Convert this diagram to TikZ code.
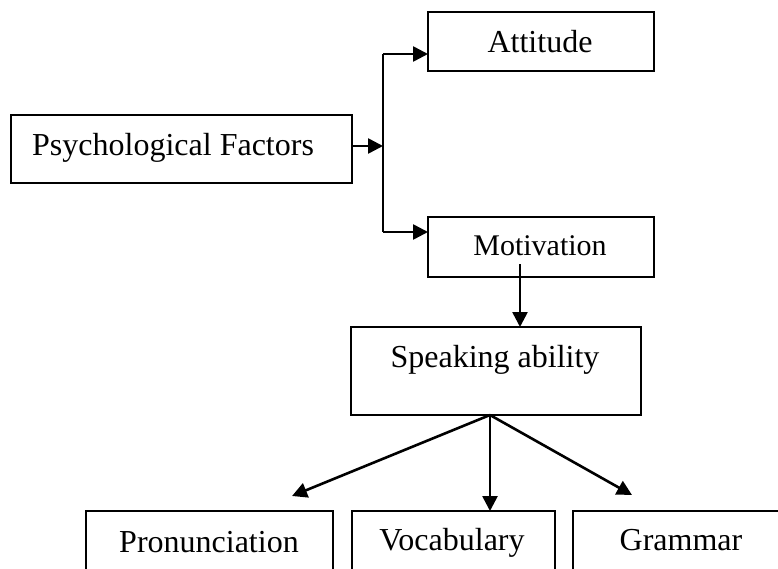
\documentclass[tikz,border=0pt]{standalone}
\usepackage{fontspec}
\setmainfont{Liberation Serif}
\usetikzlibrary{arrows.meta}
\begin{document}
\begin{tikzpicture}[x=1pt,y=-1pt,
  box/.style={draw=black,line width=2pt,inner sep=0pt,outer sep=0pt},
  conn/.style={line width=2.6pt,-{Triangle[length=15pt,width=15pt]}},
  lbl/.style={inner sep=0pt,anchor=base,font=\fontsize{32}{32}\selectfont}]
\useasboundingbox (0,0) rectangle (778,568);
\clip (0,0) rectangle (778,568);
% boxes
\node[box,minimum width=341pt,minimum height=68pt] (psy) at (181.5,149) {};
\node[box,minimum width=226pt,minimum height=59pt] (att) at (541,41.5) {};
\node[box,minimum width=226pt,minimum height=60pt] (mot) at (541,247) {};
\node[box,minimum width=290pt,minimum height=88pt] (spk) at (495.5,371) {};
\node[box,minimum width=247pt,minimum height=80pt] (pro) at (209.5,551) {};
\node[box,minimum width=203pt,minimum height=80pt] (voc) at (453.5,551) {};
\node[box,minimum width=220pt,minimum height=80pt] (gra) at (683,551) {};
% texts
\node[lbl,anchor=base west] (tpsy) at (32,155) {Psychological Factors};
\node[lbl] (tatt) at (540,52) {Attitude};
\node[lbl,font=\fontsize{30}{30}\selectfont] (tmot) at (540,255) {Motivation};
\node[lbl] (tspk) at (495,367) {Speaking ability};
\node[lbl] (tpro) at (209,552) {Pronunciation};
\node[lbl] (tvoc) at (452,550) {Vocabulary};
\node[lbl] (tgra) at (681,550) {Grammar};
% connectors
\coordinate (j) at (383,146);
\coordinate (jt) at (383,54);
\coordinate (jb) at (383,232);
\draw[conn] (psy.east |- j) -- (j);
\draw[line width=2.6pt] (jt) -- (jb);
\draw[conn] (jt) -- (att.west |- jt);
\draw[conn] (jb) -- (mot.west |- jb);
\coordinate (ms) at (520,264);
\draw[conn] (ms) -- (ms |- spk.north);
\coordinate (sb) at (490,415);
\coordinate (pt) at (292,496);
\coordinate (gt) at (632,495);
\draw[conn] (sb) -- (pt);
\draw[conn] (sb) -- (sb |- voc.north);
\draw[conn] (sb) -- (gt);
\end{tikzpicture}
\end{document}
